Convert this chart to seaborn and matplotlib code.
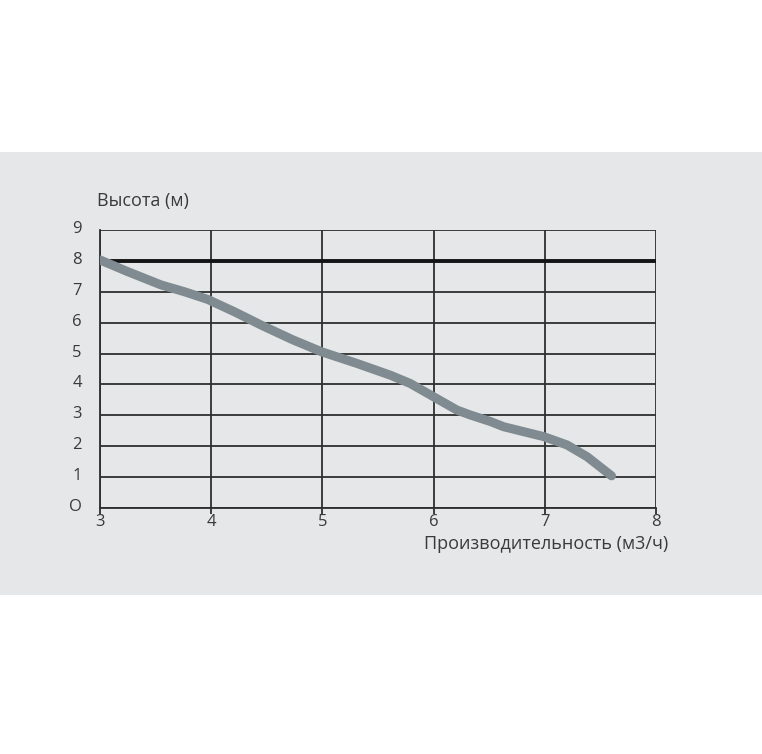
import numpy as np
import pandas as pd
import matplotlib
matplotlib.use("Agg")
import matplotlib.pyplot as plt
import matplotlib.transforms as mtrans
import seaborn as sns
from matplotlib.patches import Rectangle

# ── data ─────────────────────────────────────────────────────────────────────
flow = [3.0, 3.25, 3.55, 3.76, 3.97, 4.21, 4.45, 4.73, 4.99, 5.31, 5.61,
        5.79, 6.0, 6.21, 6.33, 6.51, 6.63, 6.99, 7.2, 7.38, 7.6]
head = [8.03, 7.65, 7.22, 7.0, 6.75, 6.35, 5.92, 5.45, 5.06, 4.68, 4.3,
        4.03, 3.6, 3.17, 3.01, 2.8, 2.63, 2.31, 2.04, 1.66, 1.04]
x_ticks = [3, 4, 5, 6, 7, 8]
y_ticks = [0, 1, 2, 3, 4, 5, 6, 7, 8, 9]
y_tick_labels = ["O", "1", "2", "3", "4", "5", "6", "7", "8", "9"]
max_head = 8

df = pd.DataFrame({"flow": flow, "head": head})

sns.set_theme(style="white")
plt.rcParams["font.family"] = ["Open Sans", "DejaVu Sans"]

grid_col = "#2e2e2e"
text_col = "#3a3a3a"

fig = plt.figure(figsize=(7.62, 7.54), dpi=100)
fig.patch.set_facecolor("white")
fig.patches.append(Rectangle((0, 0.2109), 1, 0.5875, transform=fig.transFigure,
                             facecolor="#e6e7e8", edgecolor="none", zorder=-10))

ax = fig.add_axes([0.1312, 0.3263, 0.7297, 0.3687])
ax.set_facecolor("none")

ax.set_xlim(3, 8)
ax.set_ylim(0, 9)
ax.set_xticks(x_ticks)
ax.set_yticks(y_ticks)
ax.set_yticklabels(y_tick_labels)
ax.grid(True, color=grid_col, linewidth=1.3)
for s in ax.spines.values():
    s.set_visible(False)
for side in ["left", "bottom"]:
    ax.spines[side].set_visible(True)
    ax.spines[side].set_color(grid_col)
    ax.spines[side].set_linewidth(1.3)

ax.tick_params(axis="x", length=4, width=1.3, color=grid_col, pad=0,
               labelsize=12, labelcolor=text_col, bottom=True)
ax.tick_params(axis="y", length=0, pad=13, labelsize=12, labelcolor=text_col, left=False)

# y labels sit a little above their grid lines
shift = mtrans.ScaledTranslation(0, 3 / 100, fig.dpi_scale_trans)
for lab in ax.get_yticklabels():
    lab.set_transform(lab.get_transform() + shift)

# max head line
ax.axhline(max_head, color="#151515", linewidth=2.8, zorder=3)

sns.lineplot(data=df, x="flow", y="head", ax=ax, color="#7f8b91",
             linewidth=6.5, solid_capstyle="round", solid_joinstyle="round", zorder=4)
ax.set_xlabel("")
ax.set_ylabel("")

fig.text(97 / 762, 1 - 201 / 754, "Высота (м)", fontsize=13, color=text_col,
         ha="left", va="center")
fig.text(668 / 762, 1 - 544 / 754, "Производительность (м3/ч)", fontsize=13,
         color=text_col, ha="right", va="center")

fig.savefig("out.png", dpi=100)
